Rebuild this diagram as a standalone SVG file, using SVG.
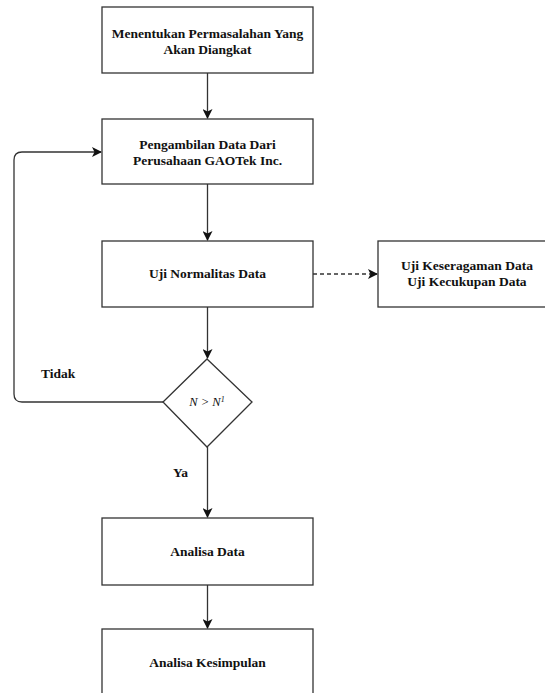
<svg xmlns="http://www.w3.org/2000/svg" width="545" height="693" viewBox="0 0 545 693">
<style>
.box{fill:#fff;stroke:#333;stroke-width:1.3}
.t{font-family:'Liberation Serif','Times New Roman','DejaVu Serif',serif;font-weight:700;font-size:13.5px;fill:#111;text-anchor:middle}
.lbl{font-family:'Liberation Serif','Times New Roman','DejaVu Serif',serif;font-weight:700;font-size:13.5px;fill:#111}
.it{font-family:'Liberation Serif','Times New Roman','DejaVu Serif',serif;font-style:italic;font-size:12.5px;fill:#111;text-anchor:middle}
.ln{fill:none;stroke:#333;stroke-width:1.3}
</style>
<defs>
<marker id="ah" markerWidth="10" markerHeight="10" refX="9" refY="5" orient="auto" markerUnits="userSpaceOnUse">
<path d="M0,0 L10,5 L0,10 L2.5,5 Z" fill="#111"/>
</marker>
</defs>
<rect width="545" height="693" fill="#fff"/>
<g id="connectors">
<path class="ln" d="M207.5,73 V118" marker-end="url(#ah)"/>
<path class="ln" d="M207.5,184 V240" marker-end="url(#ah)"/>
<path class="ln" d="M207.5,307 V358" marker-end="url(#ah)"/>
<path class="ln" d="M207.5,447 V517" marker-end="url(#ah)"/>
<path class="ln" d="M207.5,585 V628" marker-end="url(#ah)"/>
<path class="ln" d="M313,274 H377" stroke-dasharray="4,3" marker-end="url(#ah)"/>
<path class="ln" d="M163,402 H22 Q14,402 14,394 V160 Q14,152 22,152 H101" marker-end="url(#ah)"/>
</g>
<g id="n1"><rect class="box" x="102" y="7" width="211" height="66"/>
<text class="t" x="207.5" y="38">Menentukan Permasalahan Yang</text>
<text class="t" x="207.5" y="54">Akan Diangkat</text></g>
<g id="n2"><rect class="box" x="102" y="119" width="211" height="65"/>
<text class="t" x="207.5" y="149">Pengambilan Data Dari</text>
<text class="t" x="207.5" y="165">Perusahaan GAOTek Inc.</text></g>
<g id="n3"><rect class="box" x="102" y="241" width="211" height="66"/>
<text class="t" x="207.5" y="278">Uji Normalitas Data</text></g>
<g id="n4"><rect class="box" x="378" y="241" width="178" height="66"/>
<text class="t" x="467" y="270">Uji Keseragaman Data</text>
<text class="t" x="467" y="286">Uji Kecukupan Data</text></g>
<g id="n5"><path class="box" d="M207,359 L252,402 L207,447 L163,402 Z"/>
<text class="it" x="207" y="406">N &gt; N<tspan font-size="8" dy="-4">1</tspan></text></g>
<g id="n6"><rect class="box" x="102" y="518" width="211" height="67"/>
<text class="t" x="207.5" y="556">Analisa Data</text></g>
<g id="n7"><rect class="box" x="102" y="629" width="211" height="66"/>
<text class="t" x="207.5" y="667">Analisa Kesimpulan</text></g>
<g id="labels">
<text class="lbl" x="41" y="378">Tidak</text>
<text class="lbl" x="173" y="477">Ya</text>
</g>
</svg>
